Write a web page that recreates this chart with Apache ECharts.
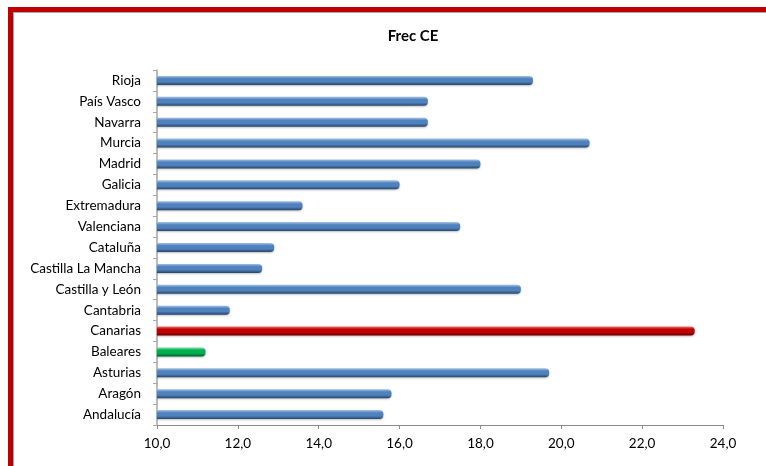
<!DOCTYPE html>
<html>
<head>
<meta charset="utf-8">
<script src="https://cdn.jsdelivr.net/npm/echarts@6/dist/echarts.min.js"></script>
<style>
  html, body { margin: 0; padding: 0; background: #fff; }
  #wrap { position: relative; width: 766px; height: 466px; overflow: hidden; background: #fff; }
  #chart { position: absolute; left: 0; top: 0; width: 766px; height: 466px; }
  #frame { position: absolute; left: 8px; top: 7px; width: 820px; height: 520px;
           border: 5px solid #C00000; pointer-events: none; }
  #inner { position: absolute; left: 0; top: 0; right: 0; bottom: 0;
           border-left: 1px solid #A6A6A6; border-top: 1px solid #A6A6A6; }
</style>
</head>
<body>
<div id="wrap">
  <div id="chart"></div>
  <div id="frame"><div id="inner"></div></div>
</div>
<script>
const title = 'Frec CE';
const categories = ['Andalucía', 'Aragón', 'Asturias', 'Baleares', 'Canarias', 'Cantabria',
  'Castilla y León', 'Castilla La Mancha', 'Cataluña', 'Valenciana', 'Extremadura',
  'Galicia', 'Madrid', 'Murcia', 'Navarra', 'País Vasco', 'Rioja'];
const values = [15.6, 15.8, 19.7, 11.2, 23.3, 11.8, 19.0, 12.6, 12.9, 17.5, 13.6,
  16.0, 18.0, 20.7, 16.7, 16.7, 19.3];
const xTicks = [10, 12, 14, 16, 18, 20, 22, 24];

function grad(light, mid, dark) {
  return new echarts.graphic.LinearGradient(0, 0, 0, 1, [
    { offset: 0, color: light },
    { offset: 0.3, color: mid },
    { offset: 0.65, color: mid },
    { offset: 1, color: dark }
  ]);
}
const blue = grad('#A4C2E8', '#4F81BD', '#26446A');
const red = grad('#F07070', '#C00000', '#650000');
const green = grad('#86E6A9', '#00B050', '#005F2B');
const special = { 'Canarias': red, 'Baleares': green };

const chart = echarts.init(document.getElementById('chart'));
chart.setOption({
  animation: false,
  backgroundColor: '#fff',
  title: {
    text: title, left: 408, top: 24, textAlign: 'center',
    textStyle: { fontFamily: 'Lato', fontSize: 15, fontWeight: 'bold', color: '#000' }
  },
  grid: { left: 157, right: 43, top: 70, bottom: 41 },
  xAxis: {
    type: 'value', min: xTicks[0], max: xTicks[xTicks.length - 1], interval: 2,
    axisLine: { show: true, lineStyle: { color: '#8C8C8C', width: 1 } },
    axisTick: { show: true, length: 4, lineStyle: { color: '#8C8C8C' } },
    splitLine: { show: false },
    axisLabel: {
      margin: 12, color: '#000', fontFamily: 'Lato', fontSize: 13.5,
      formatter: v => v.toFixed(1).replace('.', ',')
    }
  },
  yAxis: {
    type: 'category', data: categories,
    axisLine: { show: true, lineStyle: { color: '#A6A6A6', width: 1.5 } },
    axisTick: { show: true, length: 4, inside: false, lineStyle: { color: '#A6A6A6' } },
    axisLabel: { margin: 16, color: '#000', fontFamily: 'Lato', fontSize: 13.5 }
  },
  series: [{
    type: 'bar',
    barWidth: 9,
    data: values.map((v, i) => ({
      value: v,
      itemStyle: { color: special[categories[i]] || blue }
    })),
    itemStyle: { borderRadius: [0, 4, 4, 0], shadowColor: 'rgba(0,0,0,0.25)', shadowBlur: 2, shadowOffsetY: 1 }
  }]
});
</script>
</body>
</html>
